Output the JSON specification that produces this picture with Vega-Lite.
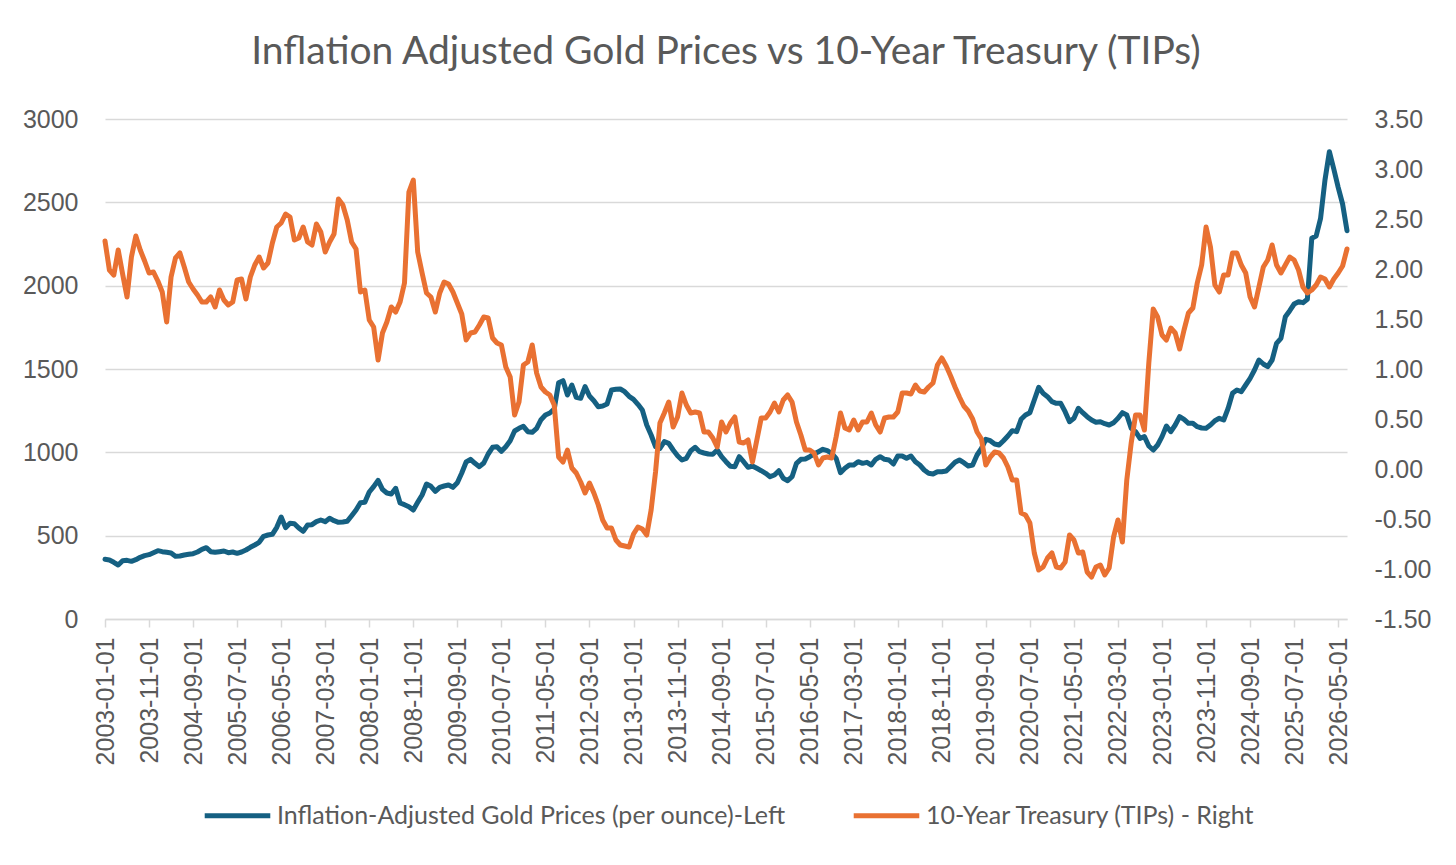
{
  "$schema": "https://vega.github.io/schema/vega-lite/v6.json",
  "width": 1242,
  "height": 500,
  "autosize": {"type": "none"},
  "padding": {"left": 105, "top": 119, "right": 109, "bottom": 246},
  "background": "white",
  "title": {
    "text": "Inflation Adjusted Gold Prices vs 10-Year Treasury (TIPs)",
    "font": "Lato",
    "fontSize": 39,
    "fontWeight": "normal",
    "color": "#595959",
    "anchor": "middle",
    "baseline": "alphabetic",
    "offset": 4
  },
  "data": {"values": [
    {"date":"2003-01-01","gold":358,"tips":2.28},{"date":"2003-02-01","gold":354,"tips":1.99},{"date":"2003-03-01","gold":340,"tips":1.94},{"date":"2003-04-01","gold":324,"tips":2.19},{"date":"2003-05-01","gold":350,"tips":1.95},{"date":"2003-06-01","gold":352,"tips":1.72},{"date":"2003-07-01","gold":346,"tips":2.12},{"date":"2003-08-01","gold":356,"tips":2.33},{"date":"2003-09-01","gold":370,"tips":2.19},{"date":"2003-10-01","gold":380,"tips":2.08},{"date":"2003-11-01","gold":386,"tips":1.96},{"date":"2003-12-01","gold":398,"tips":1.97},
    {"date":"2004-01-01","gold":410,"tips":1.88},{"date":"2004-02-01","gold":404,"tips":1.77},{"date":"2004-03-01","gold":400,"tips":1.47},{"date":"2004-04-01","gold":396,"tips":1.92},{"date":"2004-05-01","gold":376,"tips":2.11},{"date":"2004-06-01","gold":378,"tips":2.16},{"date":"2004-07-01","gold":384,"tips":2.02},{"date":"2004-08-01","gold":388,"tips":1.87},{"date":"2004-09-01","gold":392,"tips":1.80},{"date":"2004-10-01","gold":402,"tips":1.74},{"date":"2004-11-01","gold":418,"tips":1.67},{"date":"2004-12-01","gold":428,"tips":1.67},
    {"date":"2005-01-01","gold":404,"tips":1.72},{"date":"2005-02-01","gold":400,"tips":1.62},{"date":"2005-03-01","gold":404,"tips":1.79},{"date":"2005-04-01","gold":408,"tips":1.69},{"date":"2005-05-01","gold":398,"tips":1.64},{"date":"2005-06-01","gold":402,"tips":1.67},{"date":"2005-07-01","gold":394,"tips":1.89},{"date":"2005-08-01","gold":402,"tips":1.90},{"date":"2005-09-01","gold":414,"tips":1.70},{"date":"2005-10-01","gold":430,"tips":1.92},{"date":"2005-11-01","gold":444,"tips":2.04},{"date":"2005-12-01","gold":460,"tips":2.12},
    {"date":"2006-01-01","gold":496,"tips":2.01},{"date":"2006-02-01","gold":504,"tips":2.06},{"date":"2006-03-01","gold":508,"tips":2.26},{"date":"2006-04-01","gold":550,"tips":2.42},{"date":"2006-05-01","gold":612,"tips":2.46},{"date":"2006-06-01","gold":548,"tips":2.55},{"date":"2006-07-01","gold":574,"tips":2.52},{"date":"2006-08-01","gold":572,"tips":2.29},{"date":"2006-09-01","gold":546,"tips":2.31},{"date":"2006-10-01","gold":526,"tips":2.42},{"date":"2006-11-01","gold":564,"tips":2.27},{"date":"2006-12-01","gold":566,"tips":2.24},
    {"date":"2007-01-01","gold":584,"tips":2.45},{"date":"2007-02-01","gold":594,"tips":2.37},{"date":"2007-03-01","gold":584,"tips":2.17},{"date":"2007-04-01","gold":604,"tips":2.27},{"date":"2007-05-01","gold":590,"tips":2.35},{"date":"2007-06-01","gold":580,"tips":2.70},{"date":"2007-07-01","gold":582,"tips":2.64},{"date":"2007-08-01","gold":586,"tips":2.49},{"date":"2007-09-01","gold":620,"tips":2.27},{"date":"2007-10-01","gold":654,"tips":2.20},{"date":"2007-11-01","gold":698,"tips":1.77},{"date":"2007-12-01","gold":700,"tips":1.79},
    {"date":"2008-01-01","gold":762,"tips":1.49},{"date":"2008-02-01","gold":794,"tips":1.42},{"date":"2008-03-01","gold":832,"tips":1.09},{"date":"2008-04-01","gold":778,"tips":1.36},{"date":"2008-05-01","gold":756,"tips":1.47},{"date":"2008-06-01","gold":750,"tips":1.62},{"date":"2008-07-01","gold":784,"tips":1.57},{"date":"2008-08-01","gold":696,"tips":1.67},{"date":"2008-09-01","gold":686,"tips":1.86},{"date":"2008-10-01","gold":674,"tips":2.77},{"date":"2008-11-01","gold":654,"tips":2.89},{"date":"2008-12-01","gold":700,"tips":2.17},
    {"date":"2009-01-01","gold":744,"tips":1.96},{"date":"2009-02-01","gold":810,"tips":1.76},{"date":"2009-03-01","gold":796,"tips":1.72},{"date":"2009-04-01","gold":766,"tips":1.57},{"date":"2009-05-01","gold":790,"tips":1.76},{"date":"2009-06-01","gold":798,"tips":1.87},{"date":"2009-07-01","gold":804,"tips":1.85},{"date":"2009-08-01","gold":790,"tips":1.77},{"date":"2009-09-01","gold":818,"tips":1.66},{"date":"2009-10-01","gold":876,"tips":1.55},{"date":"2009-11-01","gold":942,"tips":1.29},{"date":"2009-12-01","gold":958,"tips":1.36},
    {"date":"2010-01-01","gold":934,"tips":1.37},{"date":"2010-02-01","gold":914,"tips":1.44},{"date":"2010-03-01","gold":936,"tips":1.52},{"date":"2010-04-01","gold":990,"tips":1.51},{"date":"2010-05-01","gold":1030,"tips":1.31},{"date":"2010-06-01","gold":1034,"tips":1.26},{"date":"2010-07-01","gold":1006,"tips":1.24},{"date":"2010-08-01","gold":1034,"tips":1.02},{"date":"2010-09-01","gold":1070,"tips":0.92},{"date":"2010-10-01","gold":1128,"tips":0.54},{"date":"2010-11-01","gold":1144,"tips":0.67},{"date":"2010-12-01","gold":1156,"tips":1.04},
    {"date":"2011-01-01","gold":1124,"tips":1.07},{"date":"2011-02-01","gold":1120,"tips":1.24},{"date":"2011-03-01","gold":1144,"tips":0.96},{"date":"2011-04-01","gold":1196,"tips":0.82},{"date":"2011-05-01","gold":1224,"tips":0.77},{"date":"2011-06-01","gold":1236,"tips":0.74},{"date":"2011-07-01","gold":1260,"tips":0.64},{"date":"2011-08-01","gold":1418,"tips":0.12},{"date":"2011-09-01","gold":1430,"tips":0.07},{"date":"2011-10-01","gold":1344,"tips":0.19},{"date":"2011-11-01","gold":1404,"tips":0.01},{"date":"2011-12-01","gold":1330,"tips":-0.04},
    {"date":"2012-01-01","gold":1324,"tips":-0.13},{"date":"2012-02-01","gold":1394,"tips":-0.24},{"date":"2012-03-01","gold":1338,"tips":-0.14},{"date":"2012-04-01","gold":1310,"tips":-0.24},{"date":"2012-05-01","gold":1274,"tips":-0.36},{"date":"2012-06-01","gold":1278,"tips":-0.51},{"date":"2012-07-01","gold":1290,"tips":-0.59},{"date":"2012-08-01","gold":1374,"tips":-0.59},{"date":"2012-09-01","gold":1378,"tips":-0.71},{"date":"2012-10-01","gold":1380,"tips":-0.76},{"date":"2012-11-01","gold":1364,"tips":-0.77},{"date":"2012-12-01","gold":1336,"tips":-0.78},
    {"date":"2013-01-01","gold":1318,"tips":-0.65},{"date":"2013-02-01","gold":1288,"tips":-0.58},{"date":"2013-03-01","gold":1254,"tips":-0.60},{"date":"2013-04-01","gold":1164,"tips":-0.66},{"date":"2013-05-01","gold":1104,"tips":-0.41},{"date":"2013-06-01","gold":1034,"tips":-0.03},{"date":"2013-07-01","gold":1024,"tips":0.46},{"date":"2013-08-01","gold":1064,"tips":0.56},{"date":"2013-09-01","gold":1054,"tips":0.67},{"date":"2013-10-01","gold":1014,"tips":0.42},{"date":"2013-11-01","gold":980,"tips":0.52},{"date":"2013-12-01","gold":954,"tips":0.76},
    {"date":"2014-01-01","gold":964,"tips":0.64},{"date":"2014-02-01","gold":1010,"tips":0.56},{"date":"2014-03-01","gold":1030,"tips":0.57},{"date":"2014-04-01","gold":1004,"tips":0.56},{"date":"2014-05-01","gold":996,"tips":0.37},{"date":"2014-06-01","gold":990,"tips":0.37},{"date":"2014-07-01","gold":988,"tips":0.31},{"date":"2014-08-01","gold":1014,"tips":0.22},{"date":"2014-09-01","gold":974,"tips":0.47},{"date":"2014-10-01","gold":944,"tips":0.37},{"date":"2014-11-01","gold":916,"tips":0.46},{"date":"2014-12-01","gold":914,"tips":0.52},
    {"date":"2015-01-01","gold":974,"tips":0.27},{"date":"2015-02-01","gold":944,"tips":0.26},{"date":"2015-03-01","gold":910,"tips":0.29},{"date":"2015-04-01","gold":918,"tips":0.07},{"date":"2015-05-01","gold":904,"tips":0.29},{"date":"2015-06-01","gold":890,"tips":0.51},{"date":"2015-07-01","gold":874,"tips":0.51},{"date":"2015-08-01","gold":854,"tips":0.57},{"date":"2015-09-01","gold":864,"tips":0.66},{"date":"2015-10-01","gold":890,"tips":0.57},{"date":"2015-11-01","gold":844,"tips":0.69},{"date":"2015-12-01","gold":830,"tips":0.74},
    {"date":"2016-01-01","gold":854,"tips":0.67},{"date":"2016-02-01","gold":934,"tips":0.47},{"date":"2016-03-01","gold":958,"tips":0.34},{"date":"2016-04-01","gold":960,"tips":0.19},{"date":"2016-05-01","gold":974,"tips":0.19},{"date":"2016-06-01","gold":990,"tips":0.16},{"date":"2016-07-01","gold":1004,"tips":0.04},{"date":"2016-08-01","gold":1018,"tips":0.11},{"date":"2016-09-01","gold":1010,"tips":0.12},{"date":"2016-10-01","gold":994,"tips":0.11},{"date":"2016-11-01","gold":964,"tips":0.32},{"date":"2016-12-01","gold":878,"tips":0.56},
    {"date":"2017-01-01","gold":904,"tips":0.41},{"date":"2017-02-01","gold":924,"tips":0.39},{"date":"2017-03-01","gold":924,"tips":0.49},{"date":"2017-04-01","gold":944,"tips":0.39},{"date":"2017-05-01","gold":934,"tips":0.47},{"date":"2017-06-01","gold":940,"tips":0.47},{"date":"2017-07-01","gold":924,"tips":0.56},{"date":"2017-08-01","gold":958,"tips":0.44},{"date":"2017-09-01","gold":974,"tips":0.37},{"date":"2017-10-01","gold":958,"tips":0.51},{"date":"2017-11-01","gold":954,"tips":0.52},{"date":"2017-12-01","gold":930,"tips":0.52},
    {"date":"2018-01-01","gold":978,"tips":0.57},{"date":"2018-02-01","gold":978,"tips":0.76},{"date":"2018-03-01","gold":964,"tips":0.76},{"date":"2018-04-01","gold":978,"tips":0.75},{"date":"2018-05-01","gold":944,"tips":0.84},{"date":"2018-06-01","gold":924,"tips":0.78},{"date":"2018-07-01","gold":894,"tips":0.77},{"date":"2018-08-01","gold":874,"tips":0.82},{"date":"2018-09-01","gold":870,"tips":0.86},{"date":"2018-10-01","gold":884,"tips":1.04},{"date":"2018-11-01","gold":884,"tips":1.11},{"date":"2018-12-01","gold":888,"tips":1.03},
    {"date":"2019-01-01","gold":914,"tips":0.93},{"date":"2019-02-01","gold":940,"tips":0.82},{"date":"2019-03-01","gold":954,"tips":0.72},{"date":"2019-04-01","gold":938,"tips":0.63},{"date":"2019-05-01","gold":918,"tips":0.58},{"date":"2019-06-01","gold":924,"tips":0.50},{"date":"2019-07-01","gold":984,"tips":0.37},{"date":"2019-08-01","gold":1024,"tips":0.30},{"date":"2019-09-01","gold":1078,"tips":0.04},{"date":"2019-10-01","gold":1070,"tips":0.12},{"date":"2019-11-01","gold":1050,"tips":0.17},{"date":"2019-12-01","gold":1044,"tips":0.16},
    {"date":"2020-01-01","gold":1070,"tips":0.11},{"date":"2020-02-01","gold":1098,"tips":0.02},{"date":"2020-03-01","gold":1130,"tips":-0.11},{"date":"2020-04-01","gold":1124,"tips":-0.11},{"date":"2020-05-01","gold":1198,"tips":-0.44},{"date":"2020-06-01","gold":1224,"tips":-0.46},{"date":"2020-07-01","gold":1238,"tips":-0.54},{"date":"2020-08-01","gold":1314,"tips":-0.84},{"date":"2020-09-01","gold":1390,"tips":-1.01},{"date":"2020-10-01","gold":1354,"tips":-0.98},{"date":"2020-11-01","gold":1334,"tips":-0.89},{"date":"2020-12-01","gold":1304,"tips":-0.84},
    {"date":"2021-01-01","gold":1294,"tips":-0.98},{"date":"2021-02-01","gold":1294,"tips":-0.99},{"date":"2021-03-01","gold":1244,"tips":-0.93},{"date":"2021-04-01","gold":1184,"tips":-0.66},{"date":"2021-05-01","gold":1204,"tips":-0.71},{"date":"2021-06-01","gold":1264,"tips":-0.84},{"date":"2021-07-01","gold":1238,"tips":-0.83},{"date":"2021-08-01","gold":1214,"tips":-1.03},{"date":"2021-09-01","gold":1194,"tips":-1.08},{"date":"2021-10-01","gold":1180,"tips":-0.98},{"date":"2021-11-01","gold":1184,"tips":-0.96},{"date":"2021-12-01","gold":1172,"tips":-1.06},
    {"date":"2022-01-01","gold":1164,"tips":-0.99},{"date":"2022-02-01","gold":1178,"tips":-0.68},{"date":"2022-03-01","gold":1204,"tips":-0.51},{"date":"2022-04-01","gold":1238,"tips":-0.73},{"date":"2022-05-01","gold":1224,"tips":-0.11},{"date":"2022-06-01","gold":1144,"tips":0.26},{"date":"2022-07-01","gold":1124,"tips":0.54},{"date":"2022-08-01","gold":1084,"tips":0.54},{"date":"2022-09-01","gold":1094,"tips":0.39},{"date":"2022-10-01","gold":1038,"tips":1.06},{"date":"2022-11-01","gold":1014,"tips":1.60},{"date":"2022-12-01","gold":1044,"tips":1.52},
    {"date":"2023-01-01","gold":1094,"tips":1.34},{"date":"2023-02-01","gold":1158,"tips":1.29},{"date":"2023-03-01","gold":1124,"tips":1.41},{"date":"2023-04-01","gold":1164,"tips":1.36},{"date":"2023-05-01","gold":1214,"tips":1.20},{"date":"2023-06-01","gold":1198,"tips":1.39},{"date":"2023-07-01","gold":1174,"tips":1.56},{"date":"2023-08-01","gold":1174,"tips":1.61},{"date":"2023-09-01","gold":1154,"tips":1.86},{"date":"2023-10-01","gold":1146,"tips":2.04},{"date":"2023-11-01","gold":1144,"tips":2.42},{"date":"2023-12-01","gold":1164,"tips":2.22},
    {"date":"2024-01-01","gold":1190,"tips":1.84},{"date":"2024-02-01","gold":1204,"tips":1.77},{"date":"2024-03-01","gold":1194,"tips":1.94},{"date":"2024-04-01","gold":1264,"tips":1.94},{"date":"2024-05-01","gold":1354,"tips":2.16},{"date":"2024-06-01","gold":1374,"tips":2.16},{"date":"2024-07-01","gold":1364,"tips":2.04},{"date":"2024-08-01","gold":1404,"tips":1.96},{"date":"2024-09-01","gold":1444,"tips":1.72},{"date":"2024-10-01","gold":1494,"tips":1.62},{"date":"2024-11-01","gold":1554,"tips":1.82},{"date":"2024-12-01","gold":1530,"tips":2.02},
    {"date":"2025-01-01","gold":1514,"tips":2.09},{"date":"2025-02-01","gold":1554,"tips":2.24},{"date":"2025-03-01","gold":1654,"tips":2.04},{"date":"2025-04-01","gold":1684,"tips":1.96},{"date":"2025-05-01","gold":1814,"tips":2.04},{"date":"2025-06-01","gold":1850,"tips":2.12},{"date":"2025-07-01","gold":1890,"tips":2.09},{"date":"2025-08-01","gold":1904,"tips":1.99},{"date":"2025-09-01","gold":1898,"tips":1.82},{"date":"2025-10-01","gold":1918,"tips":1.76},{"date":"2025-11-01","gold":2284,"tips":1.79},{"date":"2025-12-01","gold":2298,"tips":1.84},
    {"date":"2026-01-01","gold":2404,"tips":1.92},{"date":"2026-02-01","gold":2634,"tips":1.90},{"date":"2026-03-01","gold":2804,"tips":1.82},{"date":"2026-04-01","gold":2700,"tips":1.90},{"date":"2026-05-01","gold":2590,"tips":1.96},{"date":"2026-06-01","gold":2490,"tips":2.03},{"date":"2026-07-01","gold":2330,"tips":2.20}
  ]},
  "encoding": {
    "x": {
      "field": "date",
      "type": "ordinal",
      "scale": {"type": "point", "padding": 0},
      "axis": {
        "title": null,
        "values": ["2003-01-01","2003-11-01","2004-09-01","2005-07-01","2006-05-01","2007-03-01","2008-01-01","2008-11-01","2009-09-01","2010-07-01","2011-05-01","2012-03-01","2013-01-01","2013-11-01","2014-09-01","2015-07-01","2016-05-01","2017-03-01","2018-01-01","2018-11-01","2019-09-01","2020-07-01","2021-05-01","2022-03-01","2023-01-01","2023-11-01","2024-09-01","2025-07-01","2026-05-01"],
        "labelAngle": -90,
        "labelOverlap": false,
        "labelPadding": 10,
        "tickSize": 8,
        "tickWidth": 1.5,
        "tickColor": "#d9d9d9",
        "domainColor": "#d9d9d9",
        "domainWidth": 1.5,
        "grid": false
      }
    }
  },
  "layer": [
    {
      "mark": {"type": "line", "strokeWidth": 5, "strokeCap": "round", "strokeJoin": "round"},
      "encoding": {
        "y": {
          "field": "gold",
          "type": "quantitative",
          "scale": {"domain": [0, 3000], "nice": false, "zero": false},
          "axis": {
            "orient": "left",
            "title": null,
            "values": [0, 500, 1000, 1500, 2000, 2500, 3000],
            "format": "d",
            "grid": true,
            "domain": false,
            "ticks": false,
            "labelPadding": 27
          }
        },
        "color": {
          "datum": "Inflation-Adjusted Gold Prices (per ounce)-Left",
          "type": "nominal",
          "scale": {
            "domain": ["Inflation-Adjusted Gold Prices (per ounce)-Left", "10-Year Treasury (TIPs) - Right"],
            "range": ["#156082", "#e97132"]
          },
          "legend": {
            "orient": "none",
            "legendX": 97,
            "legendY": 661,
            "direction": "horizontal",
            "title": null,
            "symbolType": "stroke",
            "symbolStrokeWidth": 5,
            "symbolSize": 4300,
            "labelOffset": 4,
            "columnPadding": 57
          }
        }
      }
    },
    {
      "mark": {"type": "line", "strokeWidth": 5, "strokeCap": "round", "strokeJoin": "round"},
      "encoding": {
        "y": {
          "field": "tips",
          "type": "quantitative",
          "scale": {"domain": [-1.5, 3.5], "nice": false, "zero": false},
          "axis": {
            "orient": "right",
            "title": null,
            "values": [-1.5, -1, -0.5, 0, 0.5, 1, 1.5, 2, 2.5, 3, 3.5],
            "labelExpr": "replace(format(datum.value, '.2f'), '\u2212', '-')",
            "grid": false,
            "domain": false,
            "ticks": false,
            "labelPadding": 27
          }
        },
        "color": {"datum": "10-Year Treasury (TIPs) - Right", "type": "nominal"}
      }
    }
  ],
  "resolve": {"scale": {"y": "independent"}},
  "config": {
    "view": {"stroke": null},
    "axis": {
      "labelFont": "Liberation Sans",
      "labelFontSize": 25,
      "labelColor": "#595959",
      "gridColor": "#d9d9d9",
      "gridWidth": 1.5
    },
    "legend": {
      "labelFont": "Lato",
      "labelFontSize": 25,
      "labelColor": "#595959",
      "labelLimit": 0
    }
  }
}
